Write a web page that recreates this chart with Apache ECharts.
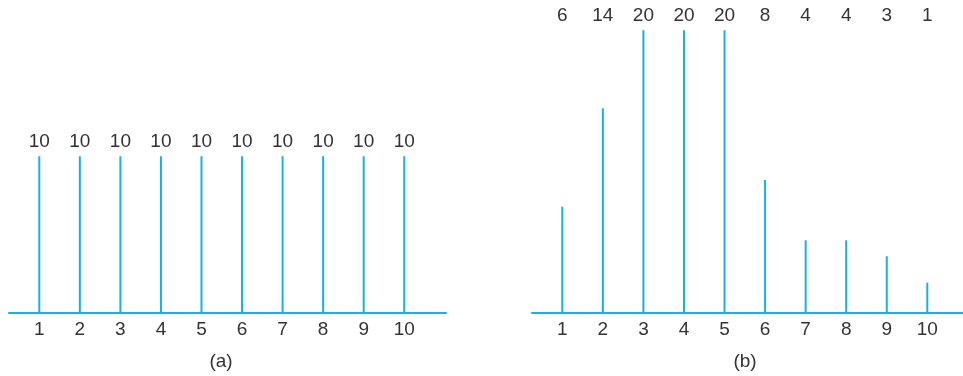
<!DOCTYPE html>
<html>
<head>
<meta charset="utf-8">
<script src="https://cdn.jsdelivr.net/npm/echarts@6/dist/echarts.min.js"></script>
<style>
    html,body{margin:0;padding:0;background:#fff;}
    #chart{width:963px;height:376px;}
</style>
</head>
<body>
<div id="chart"></div>
<script>
// 灰度级
var levels=[1,2,3,4,5,6,7,8,9,10];
// (a) 各级像素数
var countsA=[10,10,10,10,10,10,10,10,10,10];
// (b) 各级像素数（顶部标注）
var countsB=[6,14,20,20,20,8,4,4,3,1];
// (b) 竖线长度（按图上读取，单位同 (a)）
var heightsB=[6.77,13.07,18.06,18.06,18.06,8.48,4.62,4.62,3.6,1.91];
var panelNames=['(a)','(b)'];

var lineColor='#19aee6';
var textColor='#333';
var font='"Liberation Sans", Arial, sans-serif';
var fontSize=19;

function pairs(ys){
    return levels.map(function(v,i){return [v,ys[i]];});
}
function fixed(y){
    return levels.map(function(v){return [v,y];});
}

function xAxis(idx,max){
    return {
        type:'value',
        gridIndex:idx,
        min:0.253,
        max:max,
        splitLine:{show:false},
        axisTick:{show:false},
        axisLine:{show:true,onZero:false,lineStyle:{color:lineColor,width:2}},
        axisLabel:{
            customValues:levels,
            color:textColor,
            fontFamily:font,
            fontSize:fontSize,
            margin:8
        }
    };
}
function yAxis(idx){
    return {
        type:'value',
        gridIndex:idx,
        min:0,
        max:20,
        show:false
    };
}
function bars(idx,ys){
    return {
        type:'bar',
        xAxisIndex:idx,
        yAxisIndex:idx,
        barWidth:2,
        itemStyle:{color:lineColor},
        silent:true,
        data:pairs(ys)
    };
}
function tags(idx,y,texts){
    return {
        type:'scatter',
        xAxisIndex:idx,
        yAxisIndex:idx,
        symbolSize:0,
        silent:true,
        itemStyle:{opacity:1},
        label:{
            show:true,
            position:'inside',
            color:textColor,
            opacity:1,
            textBorderWidth:0,
            fontFamily:font,
            fontSize:fontSize,
            formatter:function(p){return String(texts[p.dataIndex]);}
        },
        data:fixed(y)
    };
}
function caption(text,x){
    return {
        type:'text',
        x:x,
        y:362,
        style:{
            text:text,
            fill:textColor,
            font:fontSize+'px '+font,
            textAlign:'center',
            textVerticalAlign:'middle'
        }
    };
}

var chart=echarts.init(document.getElementById('chart'));
chart.setOption({
    animation:false,
    graphic:[caption(panelNames[0],221),caption(panelNames[1],745)],
    grid:[
        {left:9,width:437,top:0,height:312.5},
        {left:532,width:431,top:0,height:312.5}
    ],
    xAxis:[xAxis(0,11.03),xAxis(1,10.88)],
    yAxis:[yAxis(0),yAxis(1)],
    series:[
        bars(0,countsA),
        tags(0,10.94,countsA),
        bars(1,heightsB),
        tags(1,19.0,countsB)
    ]
});
</script>
</body>
</html>
